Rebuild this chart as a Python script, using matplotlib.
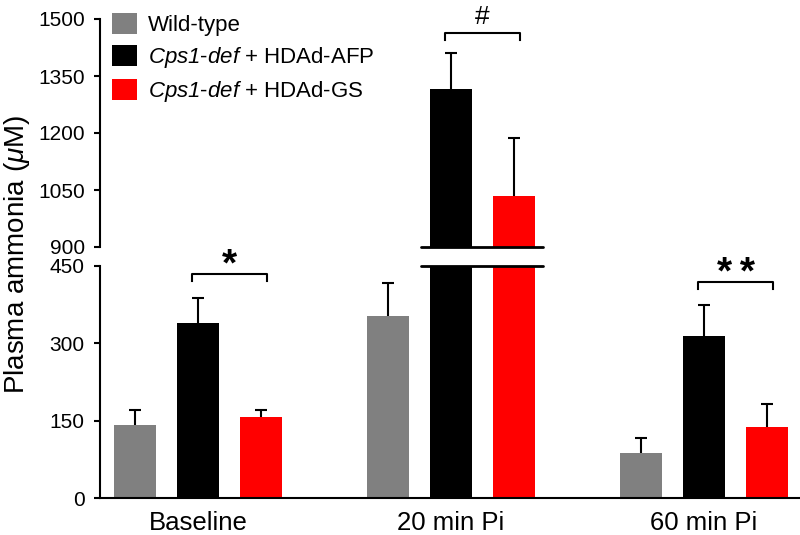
import numpy as np
import matplotlib.pyplot as plt
from matplotlib.patches import Patch

plt.rcParams['font.family'] = ['Liberation Sans', 'DejaVu Sans']
plt.rcParams['mathtext.fontset'] = 'custom'
plt.rcParams['mathtext.it'] = 'Liberation Sans:italic'
plt.rcParams['mathtext.sf'] = 'Liberation Sans:italic'
plt.rcParams['mathtext.rm'] = 'Liberation Sans'

groups = ['Baseline', '20 min Pi', '60 min Pi']
series = ['Wild-type', r'$\mathsf{Cps1}$-$\mathsf{def}$ + HDAd-AFP',
          r'$\mathsf{Cps1}$-$\mathsf{def}$ + HDAd-GS']
colors = ['#808080', '#000000', '#ff0000']

wild_type = [142, 353, 88]
wild_type_err = [29, 64, 28]
afp = [339, 1316, 314]
afp_err = [49, 94, 60]
gs = [156, 1035, 137]
gs_err = [15, 153, 45]

low_ticks = [0, 150, 300, 450]
high_ticks = [900, 1050, 1200, 1350, 1500]

# significance brackets: (group, bracket height, label, upper panel?)
sig_groups = [0, 1, 2]
sig_heights = [434, 1464, 418]
sig_labels = ['*', '#', '**']
sig_upper = [False, True, False]

means = [wild_type, afp, gs]
errs = [wild_type_err, afp_err, gs_err]

fig = plt.figure(figsize=(8, 5.35), dpi=100)
H = 535.0
ax_top = fig.add_axes([0.125, 1 - 247 / H, 0.875, (247 - 19) / H])
ax_bot = fig.add_axes([0.125, 1 - 498 / H, 0.875, (498 - 265.7) / H])

x = np.arange(len(groups))
step = 0.249
width = 0.166
offsets = [-step, 0, step]

for ax in (ax_top, ax_bot):
    for m, e, c, off in zip(means, errs, colors, offsets):
        ax.bar(x + off, m, width, color=c, zorder=2)
        eb = ax.errorbar(x + off, m, yerr=[np.zeros(len(e)), e], fmt='none',
                         ecolor='black', elinewidth=1.5, capsize=4, capthick=1.5,
                         zorder=3)
        eb[1][0].set_visible(False)  # hide lower cap
    ax.set_xlim(-0.387, 2.379)
    for s in ['top', 'right']:
        ax.spines[s].set_visible(False)
    ax.spines['left'].set_linewidth(1.5)
    ax.tick_params(axis='y', length=4, width=1.5, labelsize=15, pad=7)

ax_top.set_ylim(900, 1500)
ax_top.set_yticks(high_ticks)
ax_top.spines['bottom'].set_visible(False)
ax_top.set_xticks([])

ax_bot.set_ylim(0, 450)
ax_bot.set_yticks(low_ticks)
ax_bot.spines['bottom'].set_linewidth(1.5)
ax_bot.set_xticks(x)
ax_bot.set_xticklabels(groups, fontsize=18.5)
ax_bot.tick_params(axis='x', length=0, pad=9)

# axis break across the tall bars
bx0 = x[1] + offsets[1] - width / 2 - 0.036
bx1 = x[1] + offsets[2] + width / 2 + 0.032
ax_top.plot([bx0, bx1], [900, 900], color='black', lw=2, clip_on=False,
            solid_capstyle='round', zorder=4)
ax_bot.plot([bx0, bx1], [450, 450], color='black', lw=2, clip_on=False,
            solid_capstyle='round', zorder=4)

for g, h, lab, up in zip(sig_groups, sig_heights, sig_labels, sig_upper):
    ax = ax_top if up else ax_bot
    drop = 18 if up else 13.5
    xa = x[g] + offsets[1] - 0.025
    xb = x[g] + offsets[2] + 0.025
    ax.plot([xa, xa, xb, xb], [h - drop, h, h, h - drop], color='black',
            lw=1.5, clip_on=False)
    if lab == '#':
        ax.annotate(lab, ((xa + xb) / 2, h), xytext=(0, 3), textcoords='offset points',
                    ha='center', va='bottom', fontsize=19, annotation_clip=False)
    else:
        ax.annotate('\u2009'.join(lab), ((xa + xb) / 2, h), xytext=(0, -7),
                    textcoords='offset points', ha='center', va='bottom',
                    fontsize=28, fontweight='bold', annotation_clip=False)

fig.text(0.021, 0.525, r'Plasma ammonia ($\mathit{\mu}$M)', rotation=90,
         ha='center', va='center', fontsize=20)

handles = [Patch(facecolor=c, edgecolor='none') for c in colors]
fig.legend(handles, series, loc='upper left', bbox_to_anchor=(112 / 800, 1 - 13 / H),
           frameon=False, fontsize=16, handlelength=1.13, handleheight=1.08,
           handletextpad=0.5, labelspacing=0.4, borderpad=0, borderaxespad=0)

fig.savefig('out.png', dpi=100)
